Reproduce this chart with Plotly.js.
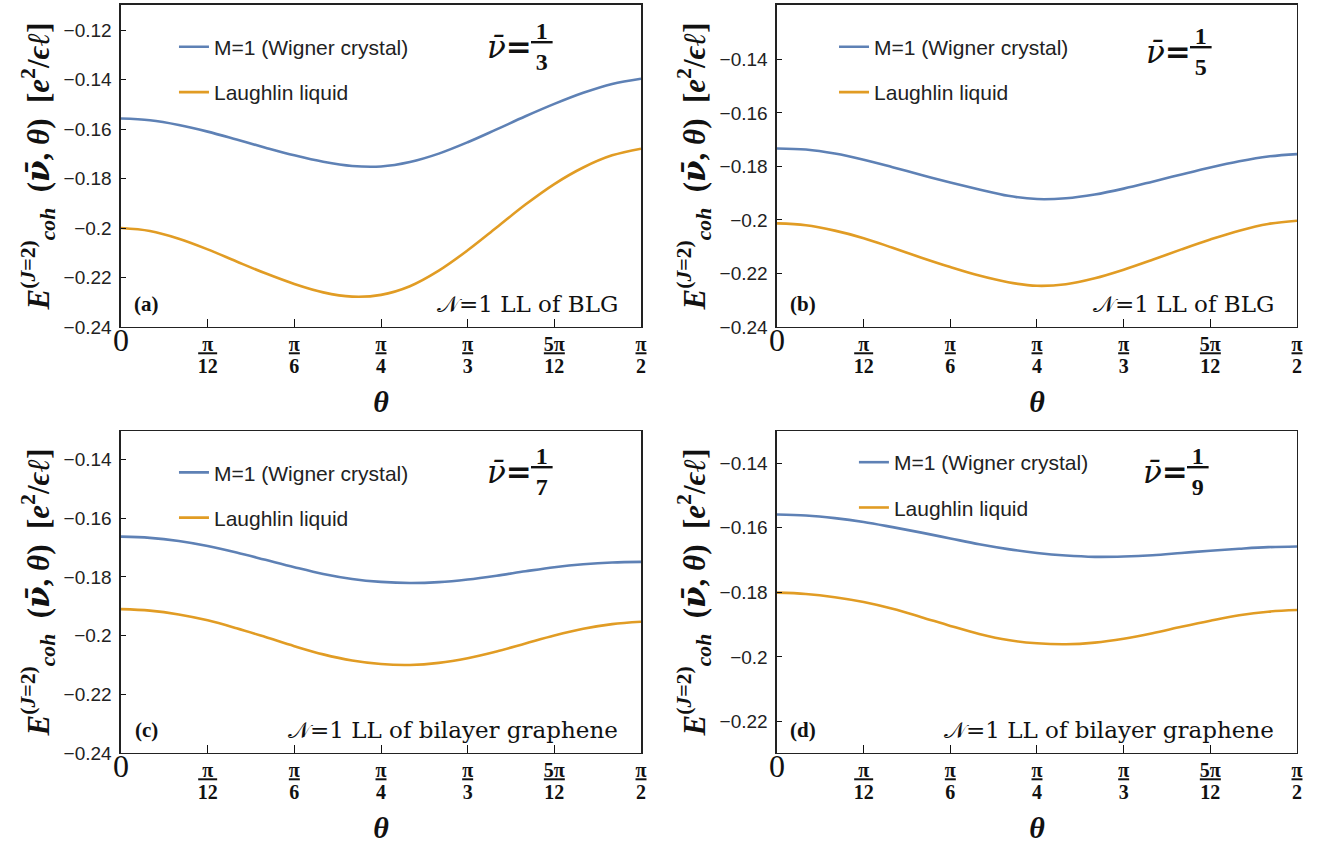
<!DOCTYPE html>
<html><head><meta charset="utf-8">
<script src="https://cdn.plot.ly/plotly-3.0.1.min.js"></script>
<style>html,body{margin:0;padding:0;background:#fff}</style>
</head><body><div id="chart" style="width:1327px;height:846px"></div>
<script>
// ---- data (theta in degrees; axis ticks labelled in multiples of pi) ----
const thetaDeg = [0,5,10,15,20,25,30,35,40,45,50,55,60,65,70,75,80,85,90];
const tickDeg = [0,15,30,45,60,75,90];
const tickNum = ['0','π','π','π','π','5π','π'];
const tickDen = ['','12','6','4','3','12','2'];
const seriesNames = ['M=1 (Wigner crystal)','Laughlin liquid'];
const panelLetters = ['(a)','(b)','(c)','(d)'];
const nuDenoms = ['3','5','7','9'];
const systemLabels = ['𝒩=1 LL of BLG','𝒩=1 LL of BLG','𝒩=1 LL of bilayer graphene','𝒩=1 LL of bilayer graphene'];

const wignerA   = [-0.1557,-0.1564,-0.1583,-0.1610,-0.1642,-0.1675,-0.1706,-0.1732,-0.1749,-0.1751,-0.1733,-0.1699,-0.1653,-0.1601,-0.1548,-0.1498,-0.1453,-0.1417,-0.1396];
const laughlinA = [-0.2000,-0.2012,-0.2043,-0.2086,-0.2135,-0.2183,-0.2226,-0.2260,-0.2277,-0.2270,-0.2235,-0.2172,-0.2090,-0.1998,-0.1905,-0.1822,-0.1755,-0.1706,-0.1679];
const wignerB   = [-0.1733,-0.1737,-0.1752,-0.1775,-0.1803,-0.1832,-0.1860,-0.1886,-0.1910,-0.1922,-0.1919,-0.1905,-0.1883,-0.1857,-0.1830,-0.1804,-0.1781,-0.1763,-0.1754];
const laughlinB = [-0.2013,-0.2020,-0.2040,-0.2068,-0.2104,-0.2141,-0.2176,-0.2208,-0.2233,-0.2246,-0.2240,-0.2218,-0.2186,-0.2149,-0.2110,-0.2073,-0.2040,-0.2015,-0.2003];
const wignerC   = [-0.1663,-0.1667,-0.1678,-0.1695,-0.1717,-0.1742,-0.1767,-0.1790,-0.1807,-0.1817,-0.1821,-0.1818,-0.1809,-0.1796,-0.1781,-0.1767,-0.1757,-0.1751,-0.1749];
const laughlinC = [-0.1910,-0.1915,-0.1928,-0.1948,-0.1975,-0.2005,-0.2036,-0.2064,-0.2085,-0.2097,-0.2100,-0.2093,-0.2077,-0.2054,-0.2027,-0.2000,-0.1977,-0.1961,-0.1953];
const wignerD   = [-0.1559,-0.1562,-0.1570,-0.1582,-0.1598,-0.1615,-0.1633,-0.1651,-0.1666,-0.1678,-0.1686,-0.1690,-0.1689,-0.1685,-0.1678,-0.1671,-0.1665,-0.1660,-0.1658];
const laughlinD = [-0.1801,-0.1805,-0.1815,-0.1830,-0.1851,-0.1877,-0.1904,-0.1929,-0.1948,-0.1958,-0.1961,-0.1956,-0.1944,-0.1927,-0.1907,-0.1888,-0.1871,-0.1860,-0.1855];

const yRanges = [[-0.24,-0.1098],[-0.24,-0.1197],[-0.24,-0.1303],[-0.2298,-0.1300]];
const yTicks = [
  [-0.24,-0.22,-0.2,-0.18,-0.16,-0.14,-0.12],
  [-0.24,-0.22,-0.2,-0.18,-0.16,-0.14],
  [-0.24,-0.22,-0.2,-0.18,-0.16,-0.14],
  [-0.22,-0.2,-0.18,-0.16,-0.14]
];
const yTickText = [
  ['−0.24','−0.22','−0.2','−0.18','−0.16','−0.14','−0.12'],
  ['−0.24','−0.22','−0.2','−0.18','−0.16','−0.14'],
  ['−0.24','−0.22','−0.2','−0.18','−0.16','−0.14'],
  ['−0.22','−0.2','−0.18','−0.16','−0.14']
];
const wigner = [wignerA,wignerB,wignerC,wignerD];
const laughlin = [laughlinA,laughlinB,laughlinC,laughlinD];

// ---- styling / layout ----
const BLUE = '#5E81B5', ORANGE = '#E19C24';
const xDomains = [[0.09118,0.48305],[0.58553,0.97739],[0.09118,0.48305],[0.58553,0.97739]];
const yDomains = [[0.61348,0.99409],[0.61348,0.99409],[0.10993,0.49054],[0.10993,0.49054]];
const legendPos = [[0.1311,0.9685],[0.6285,0.9685],[0.1311,0.4655],[0.6435,0.4775]];
const nuPos = [[0.700,0.870],[0.705,0.855],[0.700,0.873],[0.700,0.874]];

const SP = 'font-size:20px';
const tickText = tickNum.map((n,i)=> {
  if (i===0) return '<span style="font-size:32px;font-weight:normal">0</span>';
  const pad = (tickDen[i].length>1 && n.length===1) ? '\u2009' : '';
  return '<span style="'+SP+'"><u>'+pad+n+pad+'</u></span><br><span style="'+SP+'">'+tickDen[i]+'</span>';
});

const NU = '<span style="font-family:DejaVu Serif">ν̄</span>';
const yTitle = '<i>E</i><sup>(<i>J</i>=2)</sup><sub><i>coh</i></sub>\u2002(<i>'+NU+'</i>, <i>θ</i>)\u2002[<i>e</i><sup>2</sup>/<i>ϵℓ</i>]';

const data = [];
const layout = {
  width:1327, height:846, margin:{l:0,r:0,t:0,b:0},
  paper_bgcolor:'#fff', plot_bgcolor:'#fff', showlegend:true,
  annotations:[]
};
for (let p=0;p<4;p++){
  const sfx = p===0 ? '' : String(p+1);
  const lg = p===0 ? 'legend' : 'legend'+(p+1);
  data.push({x:thetaDeg, y:wigner[p], type:'scatter', mode:'lines', name:seriesNames[0],
    line:{color:BLUE,width:2.6,shape:'spline',smoothing:1}, xaxis:'x'+sfx, yaxis:'y'+sfx, legend:lg, legendgroup:'w'+p});
  data.push({x:thetaDeg, y:laughlin[p], type:'scatter', mode:'lines', name:seriesNames[1],
    line:{color:ORANGE,width:2.6,shape:'spline',smoothing:1}, xaxis:'x'+sfx, yaxis:'y'+sfx, legend:lg, legendgroup:'l'+p});
  layout['xaxis'+sfx] = {
    domain:xDomains[p], anchor:'y'+sfx, range:[0,90], tickvals:tickDeg, ticktext:tickText,
    ticks:'inside', ticklen:8, tickwidth:1, tickcolor:'#111', showline:true, linecolor:'#222', linewidth:1.5,
    mirror:true, showgrid:false, zeroline:false, ticklabelstandoff:3,
    tickfont:{family:'Liberation Serif', size:16.5, weight:'bold', color:'#111'},
    title:{text:'<i>θ</i>', font:{family:'Liberation Serif', size:30, weight:'bold', color:'#111'}, standoff:15}
  };
  layout['yaxis'+sfx] = {
    domain:yDomains[p], anchor:'x'+sfx, range:yRanges[p], tickvals:yTicks[p], ticktext:yTickText[p],
    ticks:'inside', ticklen:5, tickwidth:1, tickcolor:'#111', showline:true, linecolor:'#222', linewidth:1.5,
    mirror:true, showgrid:false, zeroline:false, ticklabelstandoff:4,
    tickfont:{family:'Liberation Sans', size:19, color:'#222'},
    title:{text:yTitle, font:{family:'Liberation Serif', size:31, weight:'bold', color:'#111'}, standoff:5}
  };
  layout[lg] = {x:legendPos[p][0], y:legendPos[p][1], xanchor:'left', yanchor:'top', bgcolor:'rgba(0,0,0,0)',
    font:{family:'Liberation Sans', size:21, color:'#222'}, tracegroupgap:15, traceorder:'grouped'};
  const xr = 'x'+sfx+' domain', yr = 'y'+sfx+' domain';
  layout.annotations.push({xref:xr, yref:yr, x:0.05, y:0.07, xanchor:'center', yanchor:'middle', showarrow:false,
    text:'<b>'+panelLetters[p]+'</b>', font:{family:'Liberation Serif', size:21, color:'#111'}});
  layout.annotations.push({xref:xr, yref:yr, x:0.96, y:0.07, xanchor:'right', yanchor:'middle', showarrow:false,
    text:systemLabels[p], font:{family:'DejaVu Serif', size:23, color:'#111'}});
  layout.annotations.push({xref:xr, yref:yr, x:nuPos[p][0], y:nuPos[p][1], xanchor:'left', yanchor:'middle', showarrow:false,
    text:'<i>ν̄</i><b>=</b>', font:{family:'DejaVu Serif', size:31, color:'#111'}});
  layout.annotations.push({xref:xr, yref:yr, x:nuPos[p][0]+0.11, y:nuPos[p][1], xanchor:'center', yanchor:'middle', showarrow:false,
    text:'<b><u>\u20091\u2009</u><br>'+nuDenoms[p]+'</b>', font:{family:'Liberation Serif', size:24, color:'#111'}});
}
Plotly.newPlot('chart', data, layout, {staticPlot:true});
</script></body></html>
